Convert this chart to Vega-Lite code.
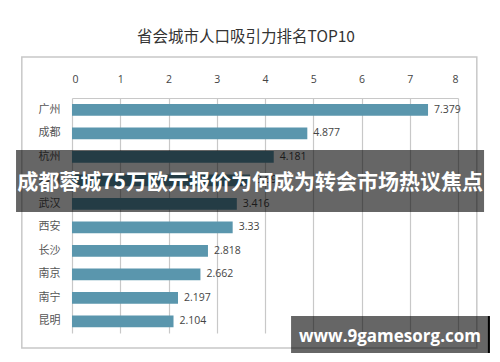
{
  "$schema": "https://vega.github.io/schema/vega-lite/v6.json",
  "width": 386,
  "height": 235,
  "autosize": "none",
  "padding": {"left": 72, "top": 98, "right": 42, "bottom": 29},
  "background": "white",
  "title": {
    "text": "省会城市人口吸引力排名TOP10",
    "font": "Noto Sans CJK SC",
    "fontSize": 15.5,
    "fontWeight": "normal",
    "color": "#333333",
    "anchor": "middle",
    "frame": "group",
    "dx": -19,
    "offset": 11
  },
  "config": {"view": {"stroke": null}},
  "data": {
    "values": [
      {"city": "广州", "value": 7.379},
      {"city": "成都", "value": 4.877},
      {"city": "杭州", "value": 4.181},
      {"city": "郑州", "value": 3.69},
      {"city": "武汉", "value": 3.416},
      {"city": "西安", "value": 3.33},
      {"city": "长沙", "value": 2.818},
      {"city": "南京", "value": 2.662},
      {"city": "南宁", "value": 2.197},
      {"city": "昆明", "value": 2.104}
    ]
  },
  "resolve": {"scale": {"y": "independent"}},
  "layer": [
    {
      "data": {"values": [{}]},
      "mark": {"type": "rect", "fill": null, "stroke": "#c8c8c8", "strokeWidth": 1.5},
      "encoding": {
        "x": {"datum": -1.04, "type": "quantitative", "scale": {"domain": [0, 8], "nice": false, "zero": false}},
        "x2": {"datum": 8.39},
        "y": {"datum": -1.74, "type": "quantitative", "axis": null, "scale": {"domain": [0, 10], "reverse": true, "nice": false, "zero": false}},
        "y2": {"datum": 10.64}
      }
    },
    {
      "mark": {"type": "bar", "color": "#5a96ad"},
      "encoding": {
        "y": {
          "field": "city", "type": "nominal", "sort": null,
          "scale": {"paddingInner": 0.5, "paddingOuter": 0.25},
          "axis": {"orient": "left", "domain": false, "ticks": false, "labelPadding": 12, "labelFont": "Noto Sans CJK SC", "labelFontSize": 11, "labelColor": "#555555", "title": null}
        },
        "x": {
          "field": "value", "type": "quantitative",
          "scale": {"domain": [0, 8], "nice": false, "zero": false},
          "axis": {"orient": "top", "values": [0, 1, 2, 3, 4, 5, 6, 7, 8], "format": "d", "grid": true, "gridColor": "#c8c8c8", "gridWidth": 1.2, "domain": true, "domainColor": "#c8c8c8", "domainWidth": 1.2, "ticks": false, "labelPadding": 14, "labelFont": "Open Sans", "labelFontSize": 10.5, "labelColor": "#444444", "title": null}
        }
      }
    },
    {
      "mark": {"type": "text", "align": "left", "baseline": "middle", "dx": 6, "font": "Open Sans", "fontSize": 10.5, "color": "#444444"},
      "encoding": {
        "y": {"field": "city", "type": "nominal", "sort": null, "axis": null, "scale": {"paddingInner": 0.5, "paddingOuter": 0.25}},
        "x": {"field": "value", "type": "quantitative", "scale": {"domain": [0, 8], "nice": false, "zero": false}},
        "text": {"field": "value", "type": "nominal"}
      }
    },
    {
      "data": {"values": [{}]},
      "mark": {"type": "rect", "fill": "#000000", "fillOpacity": 0.6},
      "encoding": {
        "x": {"datum": -1.16, "type": "quantitative", "scale": {"domain": [0, 8], "nice": false, "zero": false}},
        "x2": {"datum": 8.54},
        "y": {"datum": 2.21, "type": "quantitative", "axis": null, "scale": {"domain": [0, 10], "reverse": true, "nice": false, "zero": false}},
        "y2": {"datum": 4.85}
      }
    },
    {
      "data": {"values": [{}]},
      "mark": {"type": "text", "align": "center", "baseline": "middle", "font": "Noto Sans CJK SC", "fontSize": 21, "fontWeight": "bold", "color": "#ffffff", "text": "成都蓉城75万欧元报价为何成为转会市场热议焦点"},
      "encoding": {
        "x": {"datum": 3.69, "type": "quantitative", "scale": {"domain": [0, 8], "nice": false, "zero": false}},
        "y": {"datum": 3.6, "type": "quantitative", "axis": null, "scale": {"domain": [0, 10], "reverse": true, "nice": false, "zero": false}}
      }
    },
    {
      "data": {"values": [{}]},
      "mark": {"type": "rect", "fill": "#000000", "fillOpacity": 0.6},
      "encoding": {
        "x": {"datum": 4.54, "type": "quantitative", "scale": {"domain": [0, 8], "nice": false, "zero": false}},
        "x2": {"datum": 8.66},
        "y": {"datum": 9.28, "type": "quantitative", "axis": null, "scale": {"domain": [0, 10], "reverse": true, "nice": false, "zero": false}},
        "y2": {"datum": 10.85}
      }
    },
    {
      "data": {"values": [{}]},
      "mark": {"type": "rule", "color": "#000000", "strokeWidth": 2},
      "encoding": {
        "x": {"datum": 8.64, "type": "quantitative", "scale": {"domain": [0, 8], "nice": false, "zero": false}},
        "y": {"datum": 9.28, "type": "quantitative", "axis": null, "scale": {"domain": [0, 10], "reverse": true, "nice": false, "zero": false}},
        "y2": {"datum": 10.85}
      }
    },
    {
      "data": {"values": [{}]},
      "mark": {"type": "text", "align": "center", "baseline": "middle", "font": "Open Sans", "fontSize": 17, "fontWeight": "bold", "color": "#ffffff", "text": "www.9gamesorg.com"},
      "encoding": {
        "x": {"datum": 6.59, "type": "quantitative", "scale": {"domain": [0, 8], "nice": false, "zero": false}},
        "y": {"datum": 10.17, "type": "quantitative", "axis": null, "scale": {"domain": [0, 10], "reverse": true, "nice": false, "zero": false}}
      }
    }
  ]
}
